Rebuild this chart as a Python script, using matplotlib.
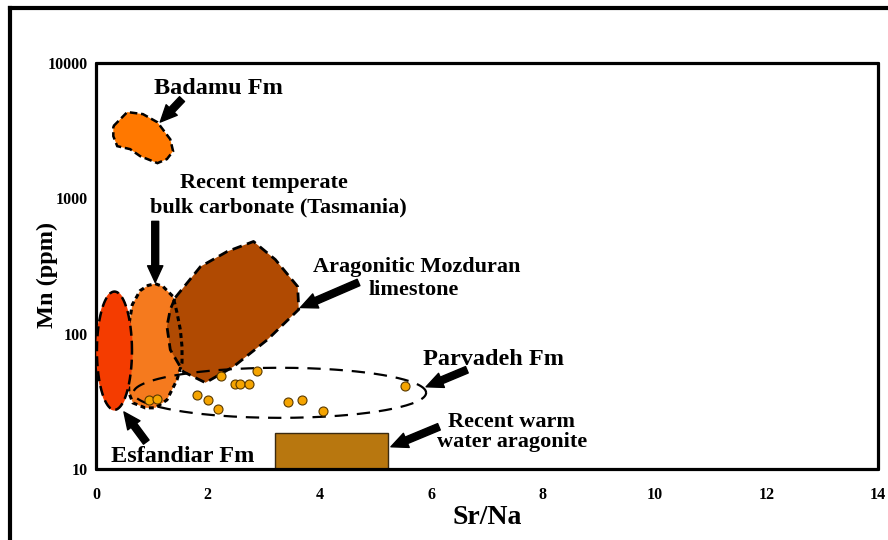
import numpy as np
import matplotlib
matplotlib.use("Agg")
import matplotlib.pyplot as plt
from matplotlib.patches import Polygon, Rectangle
from matplotlib.lines import Line2D

plt.rcParams['font.family'] = ['Liberation Serif', 'DejaVu Serif']
plt.rcParams['font.weight'] = 'bold'

# field outlines (Sr/Na, Mn ppm)
badamu_x = [0.31, 0.56, 0.84, 1.10, 1.33, 1.38, 1.27, 1.10, 0.79, 0.61, 0.38, 0.31]
badamu_y = [3410, 4340, 4190, 3650, 2730, 2230, 1950, 1820, 2050, 2310, 2430, 2880]

tasmania_x = [1.06, 1.20, 1.38, 1.45, 1.51, 1.54, 1.54, 1.45, 1.27, 1.06, 0.88,
              0.66, 0.59, 0.57, 0.57, 0.59, 0.65, 0.79, 0.93]
tasmania_y = [234, 223, 188, 143, 107, 80, 61, 45.6, 32.4, 28.3, 28.3,
              30.8, 36.5, 54.1, 80, 117, 164, 208, 227]

mozduran_x = [1.42, 1.87, 2.35, 2.82, 3.21, 3.61, 3.63, 3.07, 2.46, 1.96, 1.56, 1.33, 1.27, 1.33]
mozduran_y = [185, 313, 405, 480, 353, 223, 151, 90.3, 57, 43.4, 52.4, 76, 113, 151]

# ellipses: centre x, centre log10(Mn), half width, half height (decades)
esfandiar_ell = [0.33, 1.874, 0.314, 0.437]
parvadeh_ell = [3.29, 1.563, 2.62, 0.185]

# Parvadeh Fm samples
parvadeh_x = [0.94, 1.09, 1.80, 2.01, 2.19, 2.23, 2.49, 2.58, 2.74, 2.89, 3.44, 3.69, 4.07, 5.53]
parvadeh_y = [32.1, 33.0, 35.2, 32.5, 27.8, 48.7, 42.2, 42.2, 42.7, 53.0, 31.2, 32.5, 26.7, 41.0]

# recent warm water aragonite box
warm_x = [3.21, 5.22]
warm_y = [10, 18.5]

# labels: text, x, y (baseline), size
labels = [('Badamu Fm', 2.19, 5920, 17.5),
          ('Recent temperate', 3.01, 1194, 16),
          ('bulk carbonate (Tasmania)', 3.26, 780, 16),
          ('Aragonitic Mozduran', 5.745, 286, 16),
          ('limestone', 5.69, 193, 16),
          ('Parvadeh Fm', 7.11, 58.8, 17.5),
          ('Recent warm', 7.43, 20.4, 16),
          ('water aragonite', 7.45, 14.6, 16),
          ('Esfandiar Fm', 1.55, 11.3, 17.5)]

# arrows: tail, head
arrows = [((1.54, 5410), (1.15, 3660)),
          ((1.06, 676), (1.06, 239)),
          ((4.70, 239), (3.66, 156)),
          ((6.64, 54.1), (5.91, 40.5)),
          ((6.14, 20.5), (5.28, 14.6)),
          ((0.90, 15.8), (0.50, 26.4))]


def ellipse_xy(e):
    t = np.linspace(0, 2 * np.pi, 240)
    return e[0] + e[2] * np.cos(t), 10 ** (e[1] + e[3] * np.sin(t))


fig = plt.figure(figsize=(8.88, 5.4), dpi=100)
ax = fig.add_axes([96 / 888, 71 / 540, 782 / 888, 406 / 540])
ax.set_yscale('log')
ax.set_xlim(0, 14)
ax.set_ylim(10, 10000)

# fills
ax.add_patch(Polygon(list(zip(badamu_x, badamu_y)), closed=True, fc='#FF7800',
                     ec='black', lw=1.8, ls=(0, (3, 1.5)), zorder=2))
ax.add_patch(Polygon(list(zip(tasmania_x, tasmania_y)), closed=True, fc='#F57A1E',
                     ec='none', zorder=2))
ax.add_patch(Polygon(list(zip(mozduran_x, mozduran_y)), closed=True, fc='#B04A02',
                     ec='black', lw=2.0, ls=(0, (3.5, 2)), joinstyle='round', zorder=3))
ax.add_patch(Polygon(list(zip(tasmania_x, tasmania_y)), closed=True, fc='none',
                     ec='black', lw=2.2, ls=(0, (1.6, 1.2)), zorder=4))
ex, ey = ellipse_xy(esfandiar_ell)
ax.fill(ex, ey, color='#F43C00', zorder=4)
ax.plot(ex, ey, color='black', lw=1.8, ls=(0, (4, 2)), zorder=5)
px, py = ellipse_xy(parvadeh_ell)
ax.plot(px, py, color='black', lw=1.6, ls=(0, (6, 4)), zorder=6)

ax.plot(parvadeh_x, parvadeh_y, 'o', ms=6.5, mfc='#F5A400', mec='#5a3a00', mew=0.8, zorder=7)

ax.add_patch(Rectangle((warm_x[0], warm_y[0]), warm_x[1] - warm_x[0], warm_y[1] - warm_y[0],
                       fc='#B8770F', ec='#3a2a10', lw=1.0, zorder=2))

arrow = dict(arrowstyle='simple,tail_width=0.5,head_width=1.1,head_length=1.2',
             fc='black', ec='black', shrinkA=0, shrinkB=0, mutation_scale=10)
for tail, head in arrows:
    ax.annotate('', xy=head, xytext=tail, arrowprops=arrow, zorder=8)

for txt, x, y, size in labels:
    ax.text(x, y, txt, fontsize=size, ha='center', va='baseline',
            fontweight='bold', zorder=9)

# axes
ax.set_xticks(range(0, 15, 2))
ax.set_xticklabels([str(v) for v in range(0, 15, 2)])
ax.set_yticks([10, 100, 1000, 10000])
ax.set_yticklabels(['10', '100', '1000', '10000'])
ax.yaxis.set_minor_locator(matplotlib.ticker.NullLocator())
ax.tick_params(axis='both', length=0, labelsize=11.5)
ax.tick_params(axis='x', pad=13)
ax.tick_params(axis='y', pad=6)
for lab in ax.get_xticklabels() + ax.get_yticklabels():
    lab.set_fontweight('bold')
for sp in ax.spines.values():
    sp.set_linewidth(2.3)
    sp.set_capstyle('round')

ax.set_xlabel('Sr/Na', fontsize=20, fontweight='bold')
ax.xaxis.set_label_coords(0.5, -0.088)
ax.set_ylabel('Mn (ppm)', fontsize=17.5, fontweight='bold')
ax.yaxis.set_label_coords(-0.048, 0.478)

# outer frame (cropped)
fig.add_artist(Line2D([10 / 888, 10 / 888], [0, 1 - 8 / 540], color='black', lw=3,
                      transform=fig.transFigure))
fig.add_artist(Line2D([10 / 888, 1], [1 - 8 / 540, 1 - 8 / 540], color='black', lw=3,
                      transform=fig.transFigure))

fig.savefig('out.png', dpi=100)
